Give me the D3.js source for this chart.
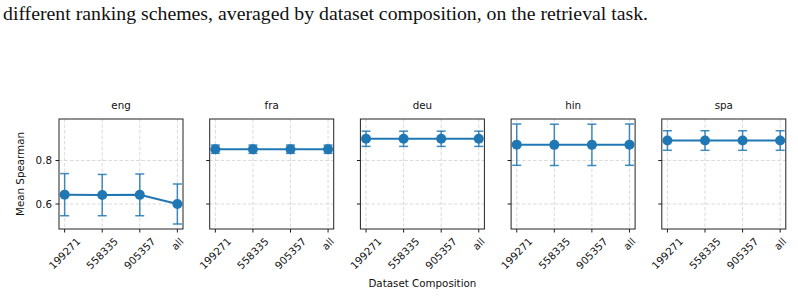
<!DOCTYPE html>
<html>
<head>
<meta charset="utf-8">
<script src="https://cdn.jsdelivr.net/npm/d3@7.9.0/dist/d3.min.js"></script>
<style>
  body { margin: 0; background: #fff; }
  svg { display: block; }
</style>
</head>
<body>
<svg id="chart" width="798" height="297"></svg>
<script>
// values
const languages = ['eng', 'fra', 'deu', 'hin', 'spa'];
const compositions = ['199271', '558335', '905357', 'all'];
// mean spearman per language, per composition
const means = [
  [0.643, 0.641, 0.642, 0.600],
  [0.852, 0.852, 0.852, 0.852],
  [0.900, 0.900, 0.900, 0.900],
  [0.873, 0.872, 0.872, 0.873],
  [0.892, 0.892, 0.892, 0.892]
];
// half length of the error bars
const errors = [
  [0.097, 0.095, 0.096, 0.092],
  [0.019, 0.019, 0.019, 0.019],
  [0.035, 0.035, 0.035, 0.035],
  [0.095, 0.095, 0.095, 0.095],
  [0.045, 0.045, 0.045, 0.045]
];
const yTicks = [0.6, 0.8];
const caption = 'different ranking schemes, averaged by dataset composition, on the retrieval task.';

const svg = d3.select('#chart');
const blue = '#1f77b4';
const font = 'DejaVu Sans';
const fs = 10.3;
const ink = '#111';

// caption text from the page above the figure
svg.append('text')
  .attr('x', 3)
  .attr('y', 20)
  .attr('font-family', 'Liberation Serif')
  .attr('font-size', 19.8)
  .attr('fill', '#111')
  .text(caption);

// panel layout
const left0 = 59, step = 150.7, pw = 124;
const panelTop = 119, ph = 110;

// shared y scale (matplotlib-like autoscale with 5% margin)
const lo = d3.min(means.flatMap((m, i) => m.map((v, j) => v - errors[i][j])));
const hi = d3.max(means.flatMap((m, i) => m.map((v, j) => v + errors[i][j])));
const marg = (hi - lo) * 0.05;
const y = d3.scaleLinear().domain([lo - marg, hi + marg]).range([panelTop + ph, panelTop]);

languages.forEach((lang, i) => {
  const x0 = left0 + i * step;
  const x = d3.scaleLinear().domain([-0.15, compositions.length - 1 + 0.15]).range([x0, x0 + pw]);
  const g = svg.append('g');

  // grid
  g.selectAll('.gx').data(compositions).enter().append('line')
    .attr('x1', (d, j) => x(j)).attr('x2', (d, j) => x(j))
    .attr('y1', panelTop).attr('y2', panelTop + ph)
    .attr('stroke', '#d0d0d0').attr('stroke-width', 0.8)
    .attr('stroke-dasharray', '3.5,2');
  g.selectAll('.gy').data(yTicks).enter().append('line')
    .attr('x1', x0).attr('x2', x0 + pw)
    .attr('y1', d => y(d)).attr('y2', d => y(d))
    .attr('stroke', '#d0d0d0').attr('stroke-width', 0.8)
    .attr('stroke-dasharray', '3.5,2');

  // y ticks
  g.selectAll('.ty').data(yTicks).enter().append('line')
    .attr('x1', x0 - 3.5).attr('x2', x0)
    .attr('y1', d => y(d)).attr('y2', d => y(d))
    .attr('stroke', '#000').attr('stroke-width', 0.9);
  if (i === 0) {
    g.selectAll('.ly').data(yTicks).enter().append('text')
      .attr('x', x0 - 7).attr('y', d => y(d))
      .attr('dy', '0.35em')
      .attr('text-anchor', 'end')
      .attr('font-family', font).attr('font-size', fs).attr('fill', ink)
      .text(d => d.toFixed(1));
  }

  // x ticks
  g.selectAll('.tx').data(compositions).enter().append('line')
    .attr('x1', (d, j) => x(j)).attr('x2', (d, j) => x(j))
    .attr('y1', panelTop + ph).attr('y2', panelTop + ph + 3.5)
    .attr('stroke', '#000').attr('stroke-width', 0.9);

  // rotated labels, bounding box centred on the tick like matplotlib
  compositions.forEach((c, j) => {
    const t = g.append('text')
      .attr('text-anchor', 'middle')
      .attr('dy', '0.35em')
      .attr('font-family', font).attr('font-size', fs).attr('fill', ink)
      .text(c);
    const w = t.node().getComputedTextLength();
    const h = fs * 1.0;
    const bh = (w + h) * Math.SQRT1_2;
    const cx = x(j), cy = panelTop + ph + 7 + bh / 2;
    t.attr('transform', `translate(${cx},${cy}) rotate(-45)`);
  });

  // error bars
  const eg = g.append('g').attr('stroke', blue).attr('stroke-opacity', 0.85).attr('stroke-width', 1.5);
  means[i].forEach((m, j) => {
    const e = errors[i][j];
    eg.append('line').attr('x1', x(j)).attr('x2', x(j)).attr('y1', y(m - e)).attr('y2', y(m + e));
    eg.append('line').attr('x1', x(j) - 4.5).attr('x2', x(j) + 4.5).attr('y1', y(m - e)).attr('y2', y(m - e));
    eg.append('line').attr('x1', x(j) - 4.5).attr('x2', x(j) + 4.5).attr('y1', y(m + e)).attr('y2', y(m + e));
  });

  // line + markers
  g.append('path')
    .datum(means[i])
    .attr('fill', 'none').attr('stroke', blue).attr('stroke-width', 2)
    .attr('d', d3.line().x((d, j) => x(j)).y(d => y(d)));
  g.selectAll('.pt').data(means[i]).enter().append('circle')
    .attr('cx', (d, j) => x(j)).attr('cy', d => y(d)).attr('r', 5)
    .attr('fill', blue);

  // frame
  g.append('rect')
    .attr('x', x0).attr('y', panelTop).attr('width', pw).attr('height', ph)
    .attr('fill', 'none').attr('stroke', '#222').attr('stroke-width', 1);

  // title
  g.append('text')
    .attr('x', x0 + pw / 2).attr('y', panelTop - 10)
    .attr('text-anchor', 'middle')
    .attr('font-family', font).attr('font-size', fs).attr('fill', ink)
    .text(lang);
});

// axis labels
svg.append('text')
  .attr('transform', `translate(24,${panelTop + ph / 2}) rotate(-90)`)
  .attr('text-anchor', 'middle')
  .attr('font-family', font).attr('font-size', fs).attr('fill', ink)
  .text('Mean Spearman');
svg.append('text')
  .attr('x', (left0 + left0 + 4 * step + pw) / 2).attr('y', 287)
  .attr('text-anchor', 'middle')
  .attr('font-family', font).attr('font-size', fs).attr('fill', ink)
  .text('Dataset Composition');
</script>
</body>
</html>
